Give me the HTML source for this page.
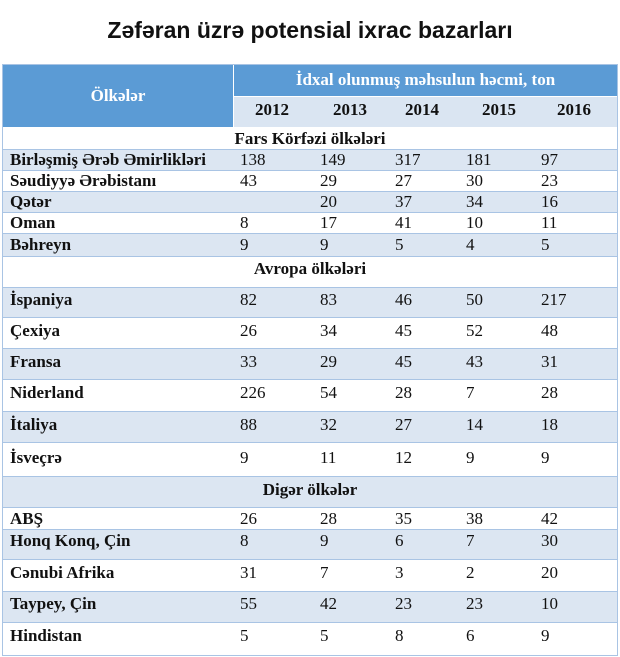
<!DOCTYPE html>
<html><head><meta charset="utf-8"><style>
body{margin:0;width:620px;height:657px;background:#fff;position:relative;overflow:hidden;font-family:"Liberation Serif",serif;}
.t{position:absolute;left:0;width:620px;top:17px;text-align:center;font:bold 23px "Liberation Sans",sans-serif;color:#111;}
.r{position:absolute;left:3px;width:614px;border-bottom:1px solid #a9c4e4;box-sizing:border-box;}
.l{background:#dce6f2;}
.c{position:absolute;white-space:nowrap;font-size:17px;color:#111;}
.b{font-weight:bold;}
</style></head><body>
<div class="t">Zəfəran üzrə potensial ixrac bazarları</div>
<div style="position:absolute;left:2px;top:64px;width:616px;height:592px;border:1px solid #a9c4e4;box-sizing:border-box;"></div>
<div style="position:absolute;left:3px;top:65px;width:614px;height:31px;background:#5b9bd5"></div>
<div style="position:absolute;left:3px;top:96px;width:230px;height:31px;background:#5b9bd5"></div>
<div style="position:absolute;left:234px;top:97px;width:383px;height:30px;background:#dae5f2"></div>
<div style="position:absolute;left:233px;top:65px;width:1px;height:62px;background:#fff"></div>
<div class="c b" style="left:3px;width:230px;text-align:center;top:86px;color:#fff">Ölkələr</div>
<div class="c b" style="left:234px;width:383px;text-align:center;top:70px;color:#fff">İdxal olunmuş məhsulun həcmi, ton</div>
<div class="c b" style="left:255px;top:100px">2012</div>
<div class="c b" style="left:333px;top:100px">2013</div>
<div class="c b" style="left:405px;top:100px">2014</div>
<div class="c b" style="left:482px;top:100px">2015</div>
<div class="c b" style="left:557px;top:100px">2016</div>
<div class="r" style="top:127px;height:23px"></div>
<div class="c b" style="left:3px;width:614px;text-align:center;top:129px">Fars Körfəzi ölkələri</div>
<div class="r l" style="top:150px;height:21px"></div>
<div class="r" style="top:171px;height:21px"></div>
<div class="r l" style="top:192px;height:21px"></div>
<div class="r" style="top:213px;height:21px"></div>
<div class="r l" style="top:234px;height:23px"></div>
<div class="r" style="top:257px;height:31px"></div>
<div class="c b" style="left:3px;width:614px;text-align:center;top:259px">Avropa ölkələri</div>
<div class="r l" style="top:288px;height:30px"></div>
<div class="r" style="top:318px;height:31px"></div>
<div class="r l" style="top:349px;height:31px"></div>
<div class="r" style="top:380px;height:32px"></div>
<div class="r l" style="top:412px;height:31px"></div>
<div class="r" style="top:443px;height:34px"></div>
<div class="r l" style="top:477px;height:31px"></div>
<div class="c b" style="left:3px;width:614px;text-align:center;top:480px">Digər ölkələr</div>
<div class="r" style="top:508px;height:22px"></div>
<div class="r l" style="top:530px;height:30px"></div>
<div class="r" style="top:560px;height:32px"></div>
<div class="r l" style="top:592px;height:31px"></div>
<div class="r" style="top:623px;height:32px;border-bottom:none"></div>

<div class="c b" style="left:10px;top:150px">Birləşmiş Ərəb Əmirlikləri</div><div class="c" style="left:240px;top:150px">138</div><div class="c" style="left:320px;top:150px">149</div><div class="c" style="left:395px;top:150px">317</div><div class="c" style="left:466px;top:150px">181</div><div class="c" style="left:541px;top:150px">97</div>
<div class="c b" style="left:10px;top:171px">Səudiyyə Ərəbistanı</div><div class="c" style="left:240px;top:171px">43</div><div class="c" style="left:320px;top:171px">29</div><div class="c" style="left:395px;top:171px">27</div><div class="c" style="left:466px;top:171px">30</div><div class="c" style="left:541px;top:171px">23</div>
<div class="c b" style="left:10px;top:192px">Qətər</div><div class="c" style="left:320px;top:192px">20</div><div class="c" style="left:395px;top:192px">37</div><div class="c" style="left:466px;top:192px">34</div><div class="c" style="left:541px;top:192px">16</div>
<div class="c b" style="left:10px;top:213px">Oman</div><div class="c" style="left:240px;top:213px">8</div><div class="c" style="left:320px;top:213px">17</div><div class="c" style="left:395px;top:213px">41</div><div class="c" style="left:466px;top:213px">10</div><div class="c" style="left:541px;top:213px">11</div>
<div class="c b" style="left:10px;top:235px">Bəhreyn</div><div class="c" style="left:240px;top:235px">9</div><div class="c" style="left:320px;top:235px">9</div><div class="c" style="left:395px;top:235px">5</div><div class="c" style="left:466px;top:235px">4</div><div class="c" style="left:541px;top:235px">5</div>

<div class="c b" style="left:10px;top:290px">İspaniya</div><div class="c" style="left:240px;top:290px">82</div><div class="c" style="left:320px;top:290px">83</div><div class="c" style="left:395px;top:290px">46</div><div class="c" style="left:466px;top:290px">50</div><div class="c" style="left:541px;top:290px">217</div>
<div class="c b" style="left:10px;top:321px">Çexiya</div><div class="c" style="left:240px;top:321px">26</div><div class="c" style="left:320px;top:321px">34</div><div class="c" style="left:395px;top:321px">45</div><div class="c" style="left:466px;top:321px">52</div><div class="c" style="left:541px;top:321px">48</div>
<div class="c b" style="left:10px;top:352px">Fransa</div><div class="c" style="left:240px;top:352px">33</div><div class="c" style="left:320px;top:352px">29</div><div class="c" style="left:395px;top:352px">45</div><div class="c" style="left:466px;top:352px">43</div><div class="c" style="left:541px;top:352px">31</div>
<div class="c b" style="left:10px;top:383px">Niderland</div><div class="c" style="left:240px;top:383px">226</div><div class="c" style="left:320px;top:383px">54</div><div class="c" style="left:395px;top:383px">28</div><div class="c" style="left:466px;top:383px">7</div><div class="c" style="left:541px;top:383px">28</div>
<div class="c b" style="left:10px;top:415px">İtaliya</div><div class="c" style="left:240px;top:415px">88</div><div class="c" style="left:320px;top:415px">32</div><div class="c" style="left:395px;top:415px">27</div><div class="c" style="left:466px;top:415px">14</div><div class="c" style="left:541px;top:415px">18</div>
<div class="c b" style="left:10px;top:448px">İsveçrə</div><div class="c" style="left:240px;top:448px">9</div><div class="c" style="left:320px;top:448px">11</div><div class="c" style="left:395px;top:448px">12</div><div class="c" style="left:466px;top:448px">9</div><div class="c" style="left:541px;top:448px">9</div>

<div class="c b" style="left:10px;top:509px">ABŞ</div><div class="c" style="left:240px;top:509px">26</div><div class="c" style="left:320px;top:509px">28</div><div class="c" style="left:395px;top:509px">35</div><div class="c" style="left:466px;top:509px">38</div><div class="c" style="left:541px;top:509px">42</div>
<div class="c b" style="left:10px;top:531px">Honq Konq, Çin</div><div class="c" style="left:240px;top:531px">8</div><div class="c" style="left:320px;top:531px">9</div><div class="c" style="left:395px;top:531px">6</div><div class="c" style="left:466px;top:531px">7</div><div class="c" style="left:541px;top:531px">30</div>
<div class="c b" style="left:10px;top:563px">Cənubi Afrika</div><div class="c" style="left:240px;top:563px">31</div><div class="c" style="left:320px;top:563px">7</div><div class="c" style="left:395px;top:563px">3</div><div class="c" style="left:466px;top:563px">2</div><div class="c" style="left:541px;top:563px">20</div>
<div class="c b" style="left:10px;top:594px">Taypey, Çin</div><div class="c" style="left:240px;top:594px">55</div><div class="c" style="left:320px;top:594px">42</div><div class="c" style="left:395px;top:594px">23</div><div class="c" style="left:466px;top:594px">23</div><div class="c" style="left:541px;top:594px">10</div>
<div class="c b" style="left:10px;top:626px">Hindistan</div><div class="c" style="left:240px;top:626px">5</div><div class="c" style="left:320px;top:626px">5</div><div class="c" style="left:395px;top:626px">8</div><div class="c" style="left:466px;top:626px">6</div><div class="c" style="left:541px;top:626px">9</div>
</body></html>
